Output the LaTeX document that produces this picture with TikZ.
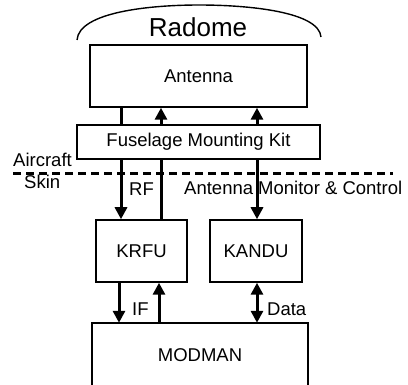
\documentclass[tikz,border=0pt]{standalone}
\usepackage{fontspec}
\setmainfont{Liberation Sans}
\usetikzlibrary{arrows.meta}
\begin{document}
\begin{tikzpicture}[x=1pt,y=-1pt,
  txt/.style={font=\fontsize{18.5}{20}\selectfont},
  box/.style={draw, line width=1.5pt, fill=white, inner sep=0pt, txt},
  lbl/.style={inner sep=0pt, anchor=base west, txt},
  conn/.style={line width=3pt},
  tip/.style={-{Triangle[length=12pt,width=12pt]}},
  dtip/.style={{Triangle[length=12pt,width=12pt]}-{Triangle[length=12pt,width=12pt]}}
]
\useasboundingbox (0,0) rectangle (408,385);

% radome
\draw[line width=1.4pt] (77,40) .. controls (79,12) and (150,5) .. (199,5)
  .. controls (250,5) and (319,12) .. (321,37);
\node[inner sep=0pt, anchor=base, font=\fontsize{26}{28}\selectfont] (radome) at (198,37) {Radome};

% aircraft skin
\coordinate (skinL) at (13,174);
\coordinate (skinR) at (393,174);
\draw[line width=3pt, dash pattern=on 8pt off 5pt] (skinL) -- (skinR);
\node[lbl] (aircraft) at (13,167) {Aircraft};
\node[lbl] (skin) at (24,189) {Skin};

% x positions of connectors
\coordinate (A) at (121,0);
\coordinate (B) at (161,0);
\coordinate (C) at (257,0);
\coordinate (D) at (119,0);
\coordinate (E) at (159,0);

% boxes
\node[box, minimum width=217pt, minimum height=62pt] (ant) at (198.5,76) {Antenna};
\node[box, minimum width=243pt, minimum height=34pt] (fmk) at (198.5,142) {Fuselage Mounting Kit};
\node[box, minimum width=91pt, minimum height=62pt] (krfu) at (141.5,251) {KRFU};
\node[box, minimum width=92pt, minimum height=62pt] (kandu) at (256,251) {KANDU};
\node[inner sep=0pt, txt, minimum width=216pt, minimum height=64pt] (modman) at (200,355) {MODMAN};
\draw[line width=1.5pt] (modman.south west) -- (modman.north west) -- (modman.north east) -- (modman.south east);

% connectors
\draw[conn] (ant.south -| A) -- (fmk.north -| A);
\draw[conn, tip] (fmk.south -| A) -- (krfu.north -| A);
\draw[conn, tip] (fmk.north -| B) -- (ant.south -| B);
\draw[conn] (krfu.north -| B) -- (fmk.south -| B);
\draw[conn, tip] (fmk.north -| C) -- (ant.south -| C);
\draw[conn, tip] (fmk.south -| C) -- (kandu.north -| C);
\draw[conn, tip] (krfu.south -| D) -- (modman.north -| D);
\draw[conn, tip] (modman.north -| E) -- (krfu.south -| E);
\draw[conn, dtip] (kandu.south -| C) -- (modman.north -| C);

% labels
\node[lbl] (rf) at (129,196) {RF};
\node[lbl] (amc) at (184,195) {Antenna Monitor \& Control};
\node[lbl] (if) at (132,316) {IF};
\node[lbl] (data) at (267,316) {Data};
\end{tikzpicture}
\end{document}
